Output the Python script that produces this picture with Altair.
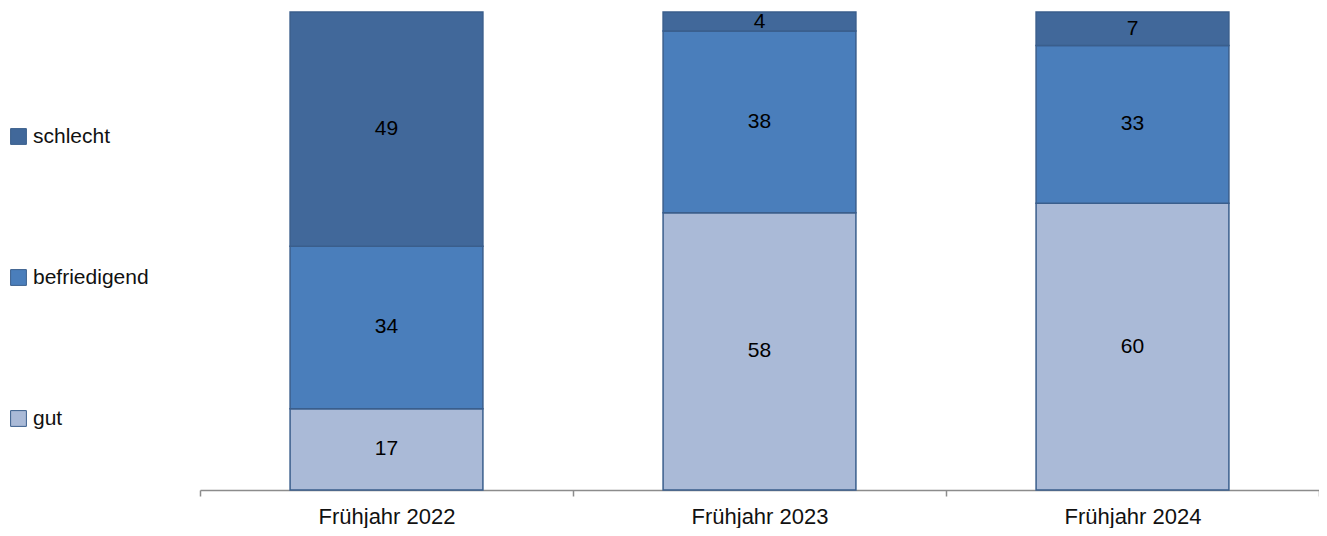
import altair as alt
import pandas as pd

periods = ["Frühjahr 2022", "Frühjahr 2023", "Frühjahr 2024"]
categories = ["gut", "befriedigend", "schlecht"]
gut = [17, 58, 60]
befriedigend = [34, 38, 33]
schlecht = [49, 4, 7]

colors = {"schlecht": "#41689A", "befriedigend": "#4A7EBB", "gut": "#AABAD7"}

rows = []
for i, p in enumerate(periods):
    for k, (c, vals) in enumerate(zip(categories, [gut, befriedigend, schlecht])):
        rows.append({"period": p, "cat": c, "value": vals[i], "order": k})
df = pd.DataFrame(rows)

legend_order = ["schlecht", "befriedigend", "gut"]

base = alt.Chart(df).transform_stack(
    stack="value", groupby=["period"], as_=["y0", "y1"],
    sort=[alt.SortField("order", order="ascending")]
).transform_calculate(mid="(datum.y0 + datum.y1) / 2")

x_scale = alt.Scale(paddingInner=0, paddingOuter=0)
x_enc = alt.X("period:N", sort=periods, title=None, scale=x_scale,
              axis=alt.Axis(labelAngle=0, tickBand="extent", tickSize=6,
                            domainColor="#8c8c8c", tickColor="#8c8c8c",
                            domainWidth=1.5, tickWidth=1.5,
                            labelFontSize=22, labelFont="Liberation Sans",
                            labelColor="#111", labelPadding=10))

bars = base.mark_bar(stroke="#3A5E8C", strokeWidth=1.5,
                     width=alt.RelativeBandSize(0.517)).encode(
    x=x_enc,
    y=alt.Y("y0:Q", scale=alt.Scale(domain=[0, 100]), axis=None),
    y2="y1:Q",
    color=alt.Color("cat:N", scale=alt.Scale(domain=legend_order,
                                               range=[colors[c] for c in legend_order]),
                    legend=alt.Legend(title=None, orient="none", legendX=-192, legendY=114,
                                      symbolType="square", symbolSize=250,
                                      symbolStrokeColor="#3A5E8C", symbolStrokeWidth=1,
                                      labelFontSize=21, labelFont="Liberation Sans",
                                      labelColor="#111", rowPadding=119, labelOffset=4)),
)

labels = base.mark_text(fontSize=21, font="Liberation Sans", color="#000").encode(
    x=alt.X("period:N", sort=periods, scale=x_scale),
    y=alt.Y("mid:Q", scale=alt.Scale(domain=[0, 100])),
    text="value:Q",
)

chart = (bars + labels).properties(
    width=1119, height=478,
    padding={"left": 192, "top": 4, "right": 0, "bottom": 38},
    autosize=alt.AutoSizeParams(type="none"),
).configure_view(stroke=None)

chart.save("out.html", embed_options={"renderer": "svg", "actions": False})
